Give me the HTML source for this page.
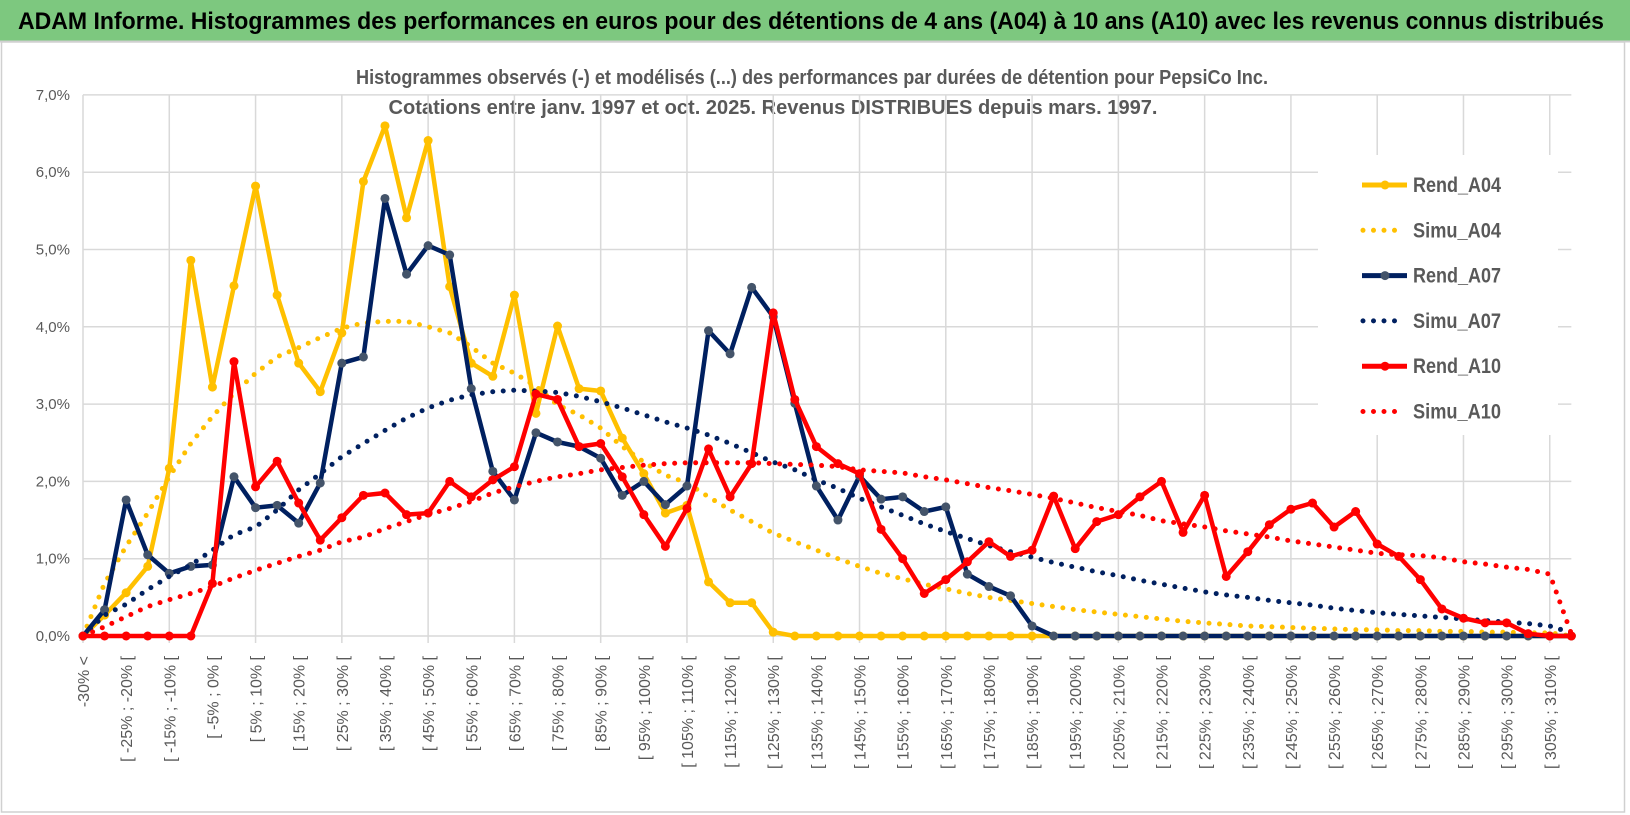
<!DOCTYPE html>
<html><head><meta charset="utf-8"><style>
html,body{margin:0;padding:0;background:#fff;width:1630px;height:815px;overflow:hidden}
svg{display:block;font-family:"Liberation Sans Narrow","Liberation Sans",sans-serif}
</style></head><body>
<svg id="chart" width="1630" height="815" viewBox="0 0 1630 815">
<rect x="0" y="0" width="1630" height="815" fill="#fff"/>
<rect x="0" y="0" width="1630" height="41" fill="#7dc87f"/>
<line x1="0" y1="41.5" x2="1630" y2="41.5" stroke="#cfcfcf" stroke-width="2"/>
<text x="18" y="29" font-size="24" font-weight="bold" fill="#000" textLength="1586" lengthAdjust="spacingAndGlyphs">ADAM Informe. Histogrammes des performances en euros pour des détentions de 4 ans (A04) à 10 ans (A10) avec les revenus connus distribués</text>
<rect x="1.5" y="42" width="1623" height="770" fill="none" stroke="#d0d0d0" stroke-width="1.5"/>
<text x="812" y="84" font-size="20" font-weight="bold" fill="#595959" text-anchor="middle" textLength="912" lengthAdjust="spacingAndGlyphs">Histogrammes observés (-) et modélisés (...) des performances par durées de détention pour PepsiCo Inc.</text>
<text x="773" y="114" font-size="20" font-weight="bold" fill="#595959" text-anchor="middle" textLength="769" lengthAdjust="spacingAndGlyphs">Cotations entre janv. 1997 et oct. 2025.  Revenus DISTRIBUES depuis mars. 1997.</text>
<g id="grid"></g><g id="yaxis"></g><g id="xaxis"></g><g id="series"></g>
<rect x="1318" y="155" width="240" height="280" fill="#fff"/>
<g id="legend"></g>
</svg>
<script>
const categories = (function(){const c=["-30% <"];for(let k=-30;k<315;k+=5){c.push("[ "+k+"% ; "+(k+5)+"% [");}return c;})().slice(0,70);
const yTicks = [0,1,2,3,4,5,6,7];
const yTickLabels = ["0,0%","1,0%","2,0%","3,0%","4,0%","5,0%","6,0%","7,0%"];
const rendA04 = [0,0.27,0.56,0.9,2.17,4.86,3.22,4.53,5.82,4.41,3.53,3.16,3.92,5.88,6.6,5.41,6.41,4.52,3.53,3.36,4.41,2.88,4.01,3.2,3.17,2.56,2.1,1.59,1.69,0.7,0.43,0.43,0.05,0,0,0,0,0,0,0,0,0,0,0,0,0,0,0,0,0,0,0,0,0,0,0,0,0,0,0,0,0,0,0,0,0,0,0,0,0];
const simuA04 = [0,0.68,1.16,1.59,2.06,2.49,2.84,3.14,3.4,3.61,3.73,3.86,3.98,4.05,4.07,4.07,4.0,3.92,3.74,3.53,3.4,3.23,2.99,2.86,2.69,2.45,2.25,2.08,1.98,1.8,1.63,1.48,1.33,1.22,1.11,1.0,0.9,0.81,0.74,0.67,0.61,0.55,0.5,0.46,0.42,0.38,0.34,0.31,0.28,0.25,0.22,0.19,0.17,0.15,0.13,0.12,0.11,0.1,0.09,0.08,0.08,0.07,0.07,0.06,0.06,0.05,0.05,0.04,0.04,0];
const rendA07 = [0,0.34,1.76,1.05,0.81,0.9,0.92,2.06,1.66,1.69,1.46,1.98,3.53,3.61,5.66,4.68,5.05,4.93,3.2,2.13,1.76,2.63,2.51,2.45,2.3,1.82,2.0,1.7,1.94,3.95,3.65,4.51,4.13,3.01,1.94,1.5,2.07,1.77,1.8,1.61,1.67,0.8,0.64,0.52,0.13,0,0,0,0,0,0,0,0,0,0,0,0,0,0,0,0,0,0,0,0,0,0,0,0,0];
const simuA07 = [0,0.27,0.41,0.6,0.77,0.92,1.11,1.31,1.41,1.63,1.89,2.1,2.32,2.49,2.66,2.82,2.95,3.05,3.12,3.16,3.18,3.17,3.15,3.1,3.03,2.95,2.86,2.77,2.69,2.6,2.49,2.37,2.25,2.15,2.02,1.91,1.78,1.67,1.56,1.45,1.35,1.26,1.17,1.09,1.02,0.95,0.89,0.83,0.78,0.72,0.67,0.62,0.57,0.53,0.5,0.46,0.43,0.4,0.36,0.33,0.3,0.28,0.26,0.24,0.22,0.2,0.18,0.16,0.13,0.04];
const rendA10 = [0,0,0,0,0,0,0.68,3.55,1.93,2.26,1.72,1.24,1.53,1.82,1.85,1.57,1.59,2.0,1.8,2.02,2.19,3.13,3.06,2.45,2.49,2.06,1.57,1.16,1.65,2.42,1.8,2.23,4.18,3.06,2.45,2.23,2.1,1.38,1.0,0.55,0.73,0.96,1.22,1.03,1.11,1.81,1.13,1.48,1.57,1.8,2.0,1.34,1.82,0.77,1.09,1.44,1.64,1.72,1.41,1.61,1.19,1.03,0.73,0.35,0.23,0.17,0.17,0.03,0,0];
const simuA10 = [0,0.12,0.25,0.38,0.47,0.55,0.64,0.75,0.85,0.94,1.03,1.11,1.22,1.28,1.39,1.48,1.57,1.65,1.74,1.85,1.93,2.0,2.06,2.1,2.15,2.18,2.21,2.23,2.24,2.24,2.24,2.24,2.23,2.22,2.21,2.19,2.15,2.13,2.11,2.06,2.02,1.97,1.92,1.88,1.83,1.78,1.72,1.66,1.61,1.56,1.49,1.45,1.41,1.36,1.32,1.28,1.23,1.19,1.15,1.11,1.07,1.05,1.04,1.01,0.96,0.93,0.89,0.86,0.8,0.03];
const seriesNames = ["Rend_A04","Simu_A04","Rend_A07","Simu_A07","Rend_A10","Simu_A10"];

const NS="http://www.w3.org/2000/svg";
const X0=83, DX=21.57, Y0=636, DY=77.3;
function xs(i){return X0+i*DX;}
function ys(v){return Y0-v*DY;}
function mk(tag,attrs,parent){const e=document.createElementNS(NS,tag);for(const k in attrs)e.setAttribute(k,attrs[k]);parent.appendChild(e);return e;}
const grid=document.getElementById('grid'), yax=document.getElementById('yaxis'), xax=document.getElementById('xaxis'), ser=document.getElementById('series'), leg=document.getElementById('legend');
const XN=xs(categories.length-1);
yTicks.forEach((t,k)=>{
  const l=mk('line',{x1:X0,x2:XN,y1:ys(t),y2:ys(t),stroke:'#d9d9d9','stroke-width':1.5},grid);
  
  
  const tx=mk('text',{x:70,y:ys(t)+5,'font-size':15,fill:'#595959','text-anchor':'end'},yax);
  tx.textContent=yTickLabels[k];
  
  
});
categories.forEach((c,i)=>{
  if(i%4===0){
    const l=mk('line',{x1:xs(i),x2:xs(i),y1:ys(7),y2:Y0+7,stroke:'#d9d9d9','stroke-width':1.5},grid);
    
    
  }
  if(i%2===0){
    const tx=mk('text',{x:0,y:0,'font-size':16,fill:'#595959','text-anchor':'end',transform:'translate('+(xs(i)+6)+','+(Y0+20)+') rotate(-90)'},xax);
    tx.textContent=c;
    
    
  }
});
function drawLine(vals,color,dotted,marker,name){
  const g=mk('g',{},ser);
  
  
  const pts=vals.map((v,i)=>xs(i).toFixed(1)+','+ys(v).toFixed(1)).join(' ');
  const attrs={points:pts,fill:'none',stroke:color,'stroke-linejoin':'round'};
  if(dotted){attrs['stroke-width']=5;attrs['stroke-dasharray']='0 10.5';attrs['stroke-linecap']='round';}
  else attrs['stroke-width']=4.5;
  const pl=mk('polyline',attrs,g);
  
  
  if(marker){vals.forEach((v,i)=>{
    const c=mk('circle',{cx:xs(i),cy:ys(v),r:4.5,fill:marker},g);
    
    
  });}
}
drawLine(rendA04,'#ffc000',false,'#ffc000','rend-a04');
drawLine(simuA04,'#ffc000',true,null,'simu-a04');
drawLine(rendA07,'#002060',false,'#44546a','rend-a07');
drawLine(simuA07,'#002060',true,null,'simu-a07');
drawLine(rendA10,'#ff0000',false,'#ff0000','rend-a10');
drawLine(simuA10,'#ff0000',true,null,'simu-a10');
const legStyles=[['#ffc000',false,'#ffc000'],['#ffc000',true,null],['#002060',false,'#44546a'],['#002060',true,null],['#ff0000',false,'#ff0000'],['#ff0000',true,null]];
seriesNames.forEach((n,k)=>{
  const y=185+k*45.3;
  const g=mk('g',{},leg);
  
  
  const s=legStyles[k];
  const a={x1:1362,x2:1407,y1:y,y2:y,stroke:s[0]};
  if(s[1]){a['stroke-width']=5;a['stroke-dasharray']='0 10.5';a['stroke-linecap']='round';a.x1=1363;a.x2=1400;}else a['stroke-width']=5;
  const l=mk('line',a,g);
  
  
  if(s[2]){const c=mk('circle',{cx:1385,cy:y,r:4.5,fill:s[2]},g);
    
    }
  const t=mk('text',{x:1413,y:y+7,'font-size':21,'font-weight':'bold',fill:'#595959',textLength:88,lengthAdjust:'spacingAndGlyphs'},g);
  t.textContent=n;
  
  
});
</script>
</body></html>
